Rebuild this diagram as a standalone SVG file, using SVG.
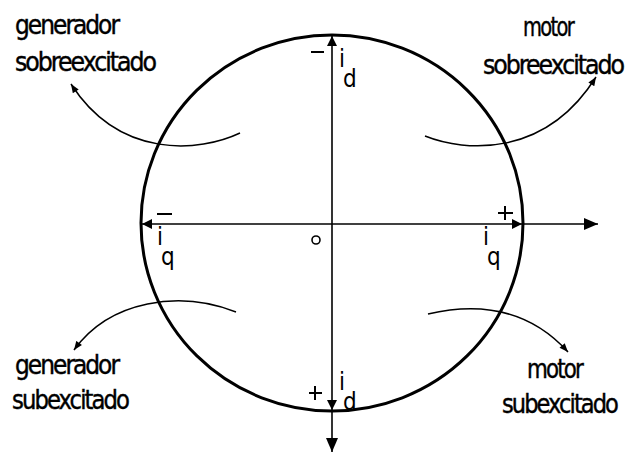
<svg xmlns="http://www.w3.org/2000/svg" width="629" height="455" viewBox="0 0 629 455">
<style>
.lbl{font-family:"DejaVu Sans Condensed","Liberation Sans Narrow","Liberation Sans",sans-serif;font-size:26px;letter-spacing:-2px;fill:#000;stroke:#000;stroke-width:0.4}
.ax{font-family:"DejaVu Sans Condensed","Liberation Sans Narrow","Liberation Sans",sans-serif;font-size:24px;fill:#000}
.sign{stroke:#000;stroke-width:2;fill:none}
.axis{stroke:#000;stroke-width:1.6;fill:none}
.curve{stroke:#000;stroke-width:1.5;fill:none}
</style>
<defs>
<marker id="tri" viewBox="0 0 10 10" refX="10" refY="5" markerWidth="10" markerHeight="10" markerUnits="userSpaceOnUse" orient="auto"><path d="M0,0 L10,5 L0,10 z" fill="#000"/></marker>
<marker id="big" viewBox="0 0 14 12" refX="14" refY="6" markerWidth="14" markerHeight="12" markerUnits="userSpaceOnUse" orient="auto"><path d="M0,0 L14,6 L0,12 z" fill="#000"/></marker>
<marker id="sm" viewBox="0 0 10 8" refX="10" refY="4" markerWidth="10" markerHeight="7" markerUnits="userSpaceOnUse" orient="auto"><path d="M0,0 L10,4 L0,8 z" fill="#000"/></marker>
</defs>
<g id="circle">
<ellipse cx="332" cy="223" rx="191" ry="188" fill="none" stroke="#000" stroke-width="3"/>
</g>
<g id="connectors">
<path class="axis" d="M332,224 L142,224" marker-end="url(#tri)"/>
<path class="axis" d="M332,224 L522,224" marker-end="url(#tri)"/>
<path class="axis" d="M522,224 L598,224" marker-end="url(#big)"/>
<path class="axis" d="M332,224 L332,36" marker-end="url(#tri)"/>
<path class="axis" d="M332,224 L332,410" marker-end="url(#tri)"/>
<path class="axis" d="M332,410 L332,452" marker-end="url(#big)"/>
<path class="curve" d="M240,133 C200,152 120,160 71,84" marker-end="url(#sm)"/>
<path class="curve" d="M425,136 C465,152 545,158 596,77" marker-end="url(#sm)"/>
<path class="curve" d="M236,312 C180,290 110,300 74,350" marker-end="url(#sm)"/>
<path class="curve" d="M428,314 C480,302 530,310 568,352" marker-end="url(#sm)"/>
</g>
<g id="axis-labels">
<path class="sign" d="M311,52 H324"/>
<text class="ax" x="339" y="67">i<tspan dx="-2" dy="20">d</tspan></text>
<path class="sign" d="M309,393 H322 M315,386 V400"/>
<text class="ax" x="339" y="390">i<tspan dx="-2" dy="20">d</tspan></text>
<path class="sign" d="M157,214 H172"/>
<text class="ax" x="157" y="245">i<tspan dx="-2" dy="20">q</tspan></text>
<path class="sign" d="M498,213 H513 M505,206 V220"/>
<text class="ax" x="483" y="245">i<tspan dx="-2" dy="20">q</tspan></text>
<circle cx="316" cy="240" r="4" fill="none" stroke="#000" stroke-width="1.6"/>
</g>
<g id="gen-sobre">
<text class="lbl" x="15" y="34" textLength="103" lengthAdjust="spacingAndGlyphs">generador</text>
<text class="lbl" x="15" y="71" textLength="140" lengthAdjust="spacingAndGlyphs">sobreexcitado</text>
</g>
<g id="motor-sobre">
<text class="lbl" x="523" y="36" textLength="50" lengthAdjust="spacingAndGlyphs">motor</text>
<text class="lbl" x="483" y="74" textLength="140" lengthAdjust="spacingAndGlyphs">sobreexcitado</text>
</g>
<g id="gen-sub">
<text class="lbl" x="15" y="374" textLength="103" lengthAdjust="spacingAndGlyphs">generador</text>
<text class="lbl" x="12" y="409" textLength="116" lengthAdjust="spacingAndGlyphs">subexcitado</text>
</g>
<g id="motor-sub">
<text class="lbl" x="527" y="378" textLength="55" lengthAdjust="spacingAndGlyphs">motor</text>
<text class="lbl" x="502" y="413" textLength="115" lengthAdjust="spacingAndGlyphs">subexcitado</text>
</g>
</svg>
